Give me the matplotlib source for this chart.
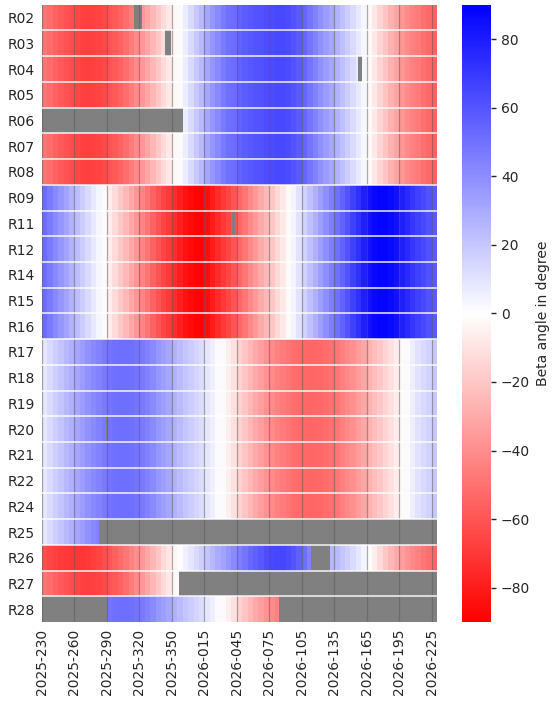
import numpy as np
import matplotlib
matplotlib.use('Agg')
import matplotlib.pyplot as plt

# satellites, top to bottom
sats = ['R02', 'R03', 'R04', 'R05', 'R06', 'R07', 'R08',
        'R09', 'R11', 'R12', 'R14', 'R15', 'R16',
        'R17', 'R18', 'R19', 'R20', 'R21', 'R22', 'R24',
        'R25', 'R26', 'R27', 'R28']

# beta angle (deg) read every 5 days starting 2025-230
plane_a = [-48, -52, -55, -58, -61, -63, -65, -67, -68, -67, -66, -64, -61, -58, -55,
           -51, -46, -41, -36, -31, -25, -19, -13, -8, -3, 2, 7, 13, 19, 25,
           31, 37, 42, 47, 50, 52, 55, 57, 59, 60, 61, 62, 63, 64, 64,
           63, 61, 58, 54, 49, 44, 39, 35, 31, 27, 22, 18, 13, 8, 3,
           -2, -8, -15, -21, -27, -32, -37, -41, -44, -47, -50, -53, -56]
plane_b = [52, 47, 42, 37, 32, 27, 23, 18, 13, 8, 3, -2, -7, -13, -19,
           -25, -31, -37, -43, -49, -55, -61, -66, -70, -74, -79, -83, -86, -88, -88,
           -85, -80, -75, -70, -65, -60, -54, -48, -42, -36, -30, -25, -20, -14, -8,
           -2, 4, 10, 16, 22, 28, 34, 40, 45, 50, 55, 61, 67, 73, 79,
           84, 87, 88, 88, 86, 83, 79, 75, 71, 67, 64, 61, 58]
plane_c = [9, 13, 17, 21, 25, 28, 31, 35, 38, 41, 44, 47, 49, 50, 51,
           51, 50, 49, 47, 44, 41, 37, 34, 31, 27, 24, 21, 18, 15, 12,
           9, 6, 2, -2, -6, -11, -16, -21, -26, -30, -34, -38, -41, -44, -47,
           -49, -51, -52, -53, -54, -54, -53, -52, -50, -48, -45, -42, -39, -35, -31,
           -27, -23, -19, -15, -11, -7, -2, 2, 6, 10, 13, 16, 19]
r26 = [-62, -65, -67, -69, -70, -71, -71, -71, -70, -68, -66, -63, -60, -56, -52,
       -48, -44, -40, -36, -31, -26, -20, -14, -9, -4, 1, 5, 9, 13, 17,
       21, 25, 29, 33, 37, 41, 45, 49, 53, 56, 59, 62, 64, 65, 65,
       63, 60, 56, 50, 44, 38, 33, 29, 26, 24, 20, 17, 13, 9, 4,
       -1, -7, -13, -19, -25, -30, -34, -38, -42, -45, -48, -51, -54]

profile_of = {'R25': plane_c, 'R26': r26, 'R27': plane_a, 'R28': plane_c}
for s in sats[:7]:
    profile_of[s] = plane_a
for s in sats[7:13]:
    profile_of[s] = plane_b
for s in sats[13:20]:
    profile_of[s] = plane_c

# missing data, day offsets from 2025-230 (start, end)
gaps = {'R02': [(85, 92)], 'R03': [(114, 119)], 'R04': [(292, 296)],
        'R06': [(0, 130)], 'R11': [(176, 178)], 'R20': [(59, 61)],
        'R25': [(53, 365)], 'R26': [(249, 266)], 'R27': [(127, 365)],
        'R28': [(0, 60), (219, 365)]}

tick_days = list(range(0, 361, 30))
tick_labels = ['2025-230', '2025-260', '2025-290', '2025-320', '2025-350',
               '2026-015', '2026-045', '2026-075', '2026-105', '2026-135',
               '2026-165', '2026-195', '2026-225']

n_days = 365
grid = np.full((len(sats), n_days), np.nan)
for i, s in enumerate(sats):
    grid[i] = np.repeat(np.array(profile_of[s], dtype=float), 5)[:n_days]
    for a, b in gaps.get(s, []):
        grid[i, a:b] = np.nan

cmap = plt.get_cmap('bwr_r').copy()
cmap.set_bad('#808080')

fig = plt.figure(figsize=(5.55, 7.03), dpi=100)
ax = fig.add_axes([0.0757, 0.1152, 0.7117, 0.878])
cax = fig.add_axes([0.832, 0.1152, 0.053, 0.878])

mesh = ax.pcolormesh(np.arange(n_days + 1), np.arange(len(sats) + 1),
                     np.ma.masked_invalid(grid), cmap=cmap, vmin=-90, vmax=90)
ax.set_xlim(0, n_days)
ax.set_ylim(len(sats), 0)

for d in tick_days:
    ax.axvline(d, color='#5a5a5a', lw=0.9, alpha=0.5)
for k in range(1, len(sats)):
    ax.axhline(k, color='white', lw=1.2, alpha=0.85)

txt = '#262626'
ax.set_yticks(np.arange(len(sats)) + 0.5)
ax.set_yticklabels(sats, fontsize=10, color=txt)
ax.set_xticks(tick_days)
ax.set_xticklabels(tick_labels, rotation=90, fontsize=10, color=txt)
ax.tick_params(length=0, pad=5)
for sp in ax.spines.values():
    sp.set_visible(False)

cb = fig.colorbar(mesh, cax=cax)
cb.set_ticks(range(-80, 81, 20))
cb.ax.tick_params(labelsize=10, colors=txt, length=3.5, width=1)
cb.outline.set_visible(False)
cb.set_label('Beta angle in degree', fontsize=10, color=txt)

fig.savefig('out.png', dpi=100)
